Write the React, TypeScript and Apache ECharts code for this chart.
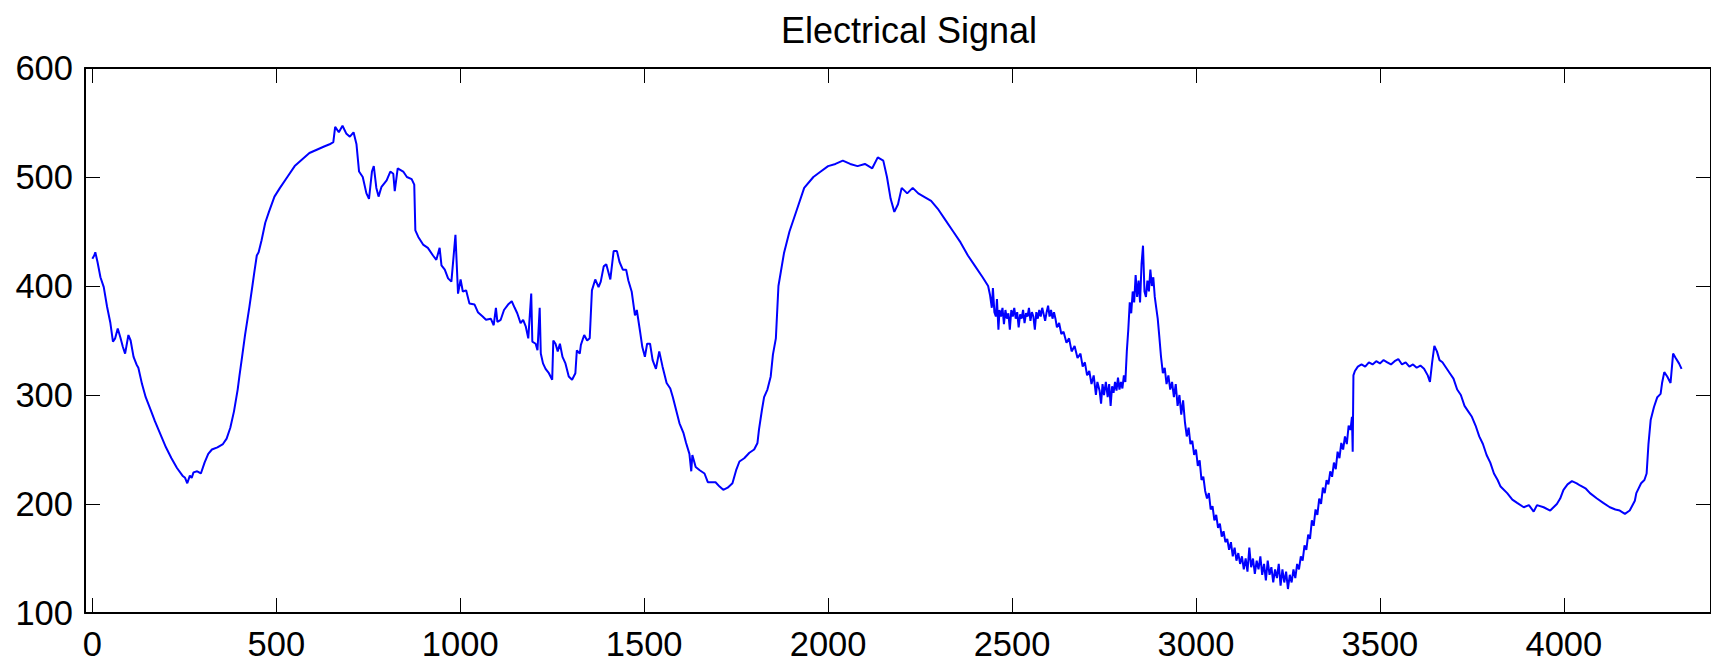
import React, { useEffect, useRef } from "react";
import * as echarts from "echarts";

const chartTitle = "Electrical Signal";
const xTicks = [0, 500, 1000, 1500, 2000, 2500, 3000, 3500, 4000];
const yTicks = [100, 200, 300, 400, 500, 600];

// sample positions (x) and signal readings (y)
const sampleX = [
  0, 5, 8, 14, 22, 31, 40, 49, 56, 62, 69, 76, 83, 89, 98, 104, 112, 120, 125, 135,
  145, 160, 170, 180, 190, 200, 215, 230, 245, 252, 258, 265, 270, 275, 285, 295, 305, 315, 325, 340,
  355, 365, 375, 385, 395, 400, 407, 415, 427, 435, 440, 447, 452, 460, 470, 480, 495, 510, 530, 550,
  570, 590, 610, 630, 645, 655, 660, 670, 680, 690, 700, 710, 718, 725, 735, 745, 752, 760, 765, 772,
  778, 786, 800, 810, 818, 822, 830, 845, 855, 868, 875, 878, 886, 899, 912, 926, 935, 944, 949, 958,
  967, 976, 987, 994, 1001, 1007, 1016, 1025, 1039, 1048, 1061, 1070, 1083, 1091, 1097, 1101, 1110, 1119, 1130, 1140,
  1148, 1155, 1164, 1171, 1178, 1185, 1193, 1196, 1205, 1210, 1216, 1219, 1225, 1232, 1241, 1250, 1253, 1259, 1265, 1271,
  1278, 1286, 1295, 1304, 1313, 1317, 1325, 1328, 1337, 1345, 1352, 1358, 1367, 1376, 1382, 1390, 1397, 1408, 1417, 1426,
  1433, 1442, 1451, 1457, 1466, 1475, 1480, 1489, 1495, 1502, 1508, 1516, 1523, 1532, 1541, 1550, 1561, 1571, 1578, 1587,
  1596, 1607, 1614, 1623, 1628, 1631, 1640, 1651, 1664, 1673, 1682, 1694, 1705, 1715, 1727, 1740, 1750, 1759, 1772, 1786,
  1799, 1808, 1812, 1820, 1826, 1835, 1844, 1850, 1858, 1865, 1880, 1895, 1915, 1935, 1960, 1980, 2000, 2020, 2040, 2060,
  2080, 2100, 2120, 2135, 2150, 2160, 2170, 2180, 2190, 2200, 2215, 2230, 2245, 2260, 2280, 2300, 2320, 2340, 2360, 2380,
  2400, 2420, 2435, 2440, 2445, 2448, 2452, 2456, 2459, 2463, 2466, 2470, 2474, 2478, 2482, 2486, 2490, 2494, 2498, 2502,
  2506, 2510, 2514, 2518, 2522, 2526, 2530, 2534, 2538, 2542, 2546, 2550, 2554, 2558, 2562, 2566, 2570, 2574, 2578, 2582,
  2586, 2590, 2594, 2598, 2602, 2606, 2610, 2614, 2618, 2622, 2628, 2634, 2640, 2648, 2655, 2662, 2670, 2678, 2686, 2692,
  2698, 2704, 2710, 2716, 2722, 2728, 2732, 2738, 2742, 2746, 2750, 2755, 2760, 2764, 2768, 2772, 2776, 2780, 2784, 2788,
  2792, 2796, 2800, 2804, 2808, 2812, 2816, 2820, 2824, 2828, 2832, 2836, 2840, 2844, 2848, 2852, 2856, 2860, 2864, 2868,
  2872, 2876, 2880, 2884, 2888, 2892, 2896, 2900, 2905, 2910, 2915, 2920, 2925, 2930, 2935, 2940, 2945, 2950, 2955, 2960,
  2965, 2970, 2975, 2980, 2985, 2990, 2995, 3000, 3005, 3010, 3015, 3020, 3025, 3030, 3035, 3040, 3045, 3050, 3055, 3060,
  3065, 3070, 3075, 3080, 3085, 3090, 3095, 3100, 3105, 3110, 3115, 3120, 3125, 3130, 3135, 3140, 3145, 3150, 3155, 3160,
  3165, 3170, 3175, 3180, 3185, 3190, 3195, 3200, 3205, 3210, 3215, 3220, 3225, 3230, 3235, 3240, 3245, 3250, 3255, 3260,
  3265, 3270, 3275, 3280, 3285, 3290, 3295, 3300, 3305, 3310, 3315, 3320, 3325, 3330, 3335, 3340, 3345, 3350, 3355, 3360,
  3365, 3370, 3375, 3380, 3385, 3390, 3395, 3400, 3405, 3410, 3415, 3420, 3424, 3426, 3428, 3432, 3440, 3450, 3460, 3470,
  3480, 3490, 3500, 3510, 3520, 3530, 3540, 3550, 3560, 3570, 3580, 3590, 3600, 3610, 3620, 3630, 3636, 3642, 3648, 3655,
  3662, 3670, 3680, 3690, 3700, 3710, 3720, 3730, 3740, 3750, 3760, 3770, 3780, 3790, 3800, 3810, 3820, 3828, 3846, 3860,
  3873, 3891, 3905, 3918, 3927, 3945, 3963, 3981, 3990, 3999, 4010, 4022, 4035, 4044, 4060, 4071, 4090, 4107, 4125, 4140,
  4152, 4166, 4179, 4193, 4197, 4210, 4219, 4225, 4230, 4236, 4245, 4254, 4263, 4267, 4273, 4281, 4290, 4297, 4304, 4313,
  4320,
];

const signal = [
  425, 428, 431, 422, 408, 399, 381, 366, 349, 352, 361, 353, 344, 338, 355, 350, 335, 328, 325, 310,
  298, 285, 276, 268, 260, 252, 242, 233, 226, 224, 219, 226, 224, 229, 230, 228, 238, 246, 250, 252,
  255, 260, 270, 285, 305, 318, 335, 355, 381, 400, 412, 428, 431, 442, 458, 468, 482, 490, 500, 510,
  516, 522, 525, 528, 530, 532, 546, 541, 547, 540, 537, 541, 530, 505, 500, 485, 480, 505, 510, 490,
  482, 491, 497, 505, 503, 487, 508, 505, 500, 498, 493, 451, 445, 438, 435, 428, 424, 435, 419, 415,
  407, 404, 447, 393, 406, 395, 396, 384, 383, 376, 372, 369, 370, 364, 380, 367, 369, 378, 383, 386,
  380, 375, 366, 369, 363, 352, 393, 349, 347, 341, 380, 338, 329, 324, 320, 314, 350, 347, 340, 347,
  335, 329, 317, 314, 320, 341, 338, 346, 355, 350, 352, 396, 406, 399, 404, 418, 420, 406, 432, 432,
  422, 415, 415, 405, 395, 373, 378, 358, 344, 335, 347, 347, 332, 324, 340, 326, 311, 306, 298, 286,
  274, 265, 256, 246, 230, 245, 234, 231, 228, 220, 220, 220, 216, 213, 215, 219, 231, 239, 242, 247,
  250, 256, 268, 286, 298, 305, 317, 337, 352, 400, 430, 450, 470, 490, 500, 505, 510, 512, 515, 512,
  510, 512, 508, 518, 515, 500, 480, 468, 475, 490, 485, 490, 485, 482, 478, 470, 460, 450, 440, 428,
  418, 408, 400, 392, 380, 398, 376, 372, 388, 360, 378, 372, 380, 365, 378, 370, 375, 360, 378, 372,
  380, 370, 376, 362, 374, 370, 378, 366, 375, 372, 380, 368, 376, 372, 360, 376, 370, 378, 372, 380,
  374, 368, 376, 382, 372, 378, 370, 376, 370, 362, 366, 356, 358, 348, 352, 340, 345, 334, 338, 326,
  330, 318, 322, 310, 318, 300, 312, 304, 292, 310, 300, 312, 298, 310, 290, 308, 302, 312, 304, 316,
  305, 312, 306, 318, 312, 340, 360, 385, 375, 395, 385, 410, 390, 405, 385, 420, 437, 395, 390, 405,
  395, 415, 400, 408, 390, 380, 370, 355, 335, 320, 325, 310, 318, 305, 312, 298, 310, 290, 300, 282,
  295, 275, 262, 270, 255, 258, 245, 250, 235, 240, 222, 225, 212, 205, 210, 195, 198, 185, 190, 178,
  182, 170, 175, 165, 168, 158, 165, 152, 160, 148, 155, 145, 152, 140, 150, 138, 160, 142, 150, 136,
  148, 140, 152, 135, 145, 130, 148, 135, 142, 128, 140, 132, 145, 125, 140, 128, 138, 122, 135, 128,
  140, 132, 145, 140, 152, 148, 162, 158, 172, 168, 185, 180, 195, 190, 205, 200, 215, 210, 222, 218,
  230, 225, 238, 232, 248, 242, 256, 250, 262, 255, 272, 268, 280, 248, 318, 322, 326, 328, 326, 330,
  328, 331, 329, 332, 330, 328, 331, 333, 328, 330, 326, 328, 325, 327, 324, 318, 312, 330, 345, 340,
  332, 330, 325, 320, 315, 305, 300, 290, 285, 280, 272, 262, 255, 245, 238, 228, 222, 216, 210, 204,
  201, 197, 199, 193, 199, 197, 194, 200, 205, 213, 218, 221, 219, 217, 214, 210, 205, 201, 197, 195,
  194, 191, 194, 203, 210, 219, 222, 228, 255, 277, 289, 298, 301, 311, 321, 317, 311, 338, 334, 329,
  324,
];

const FONT = '"Liberation Sans", Arial, Helvetica, sans-serif';

export default function App() {
  const ref = useRef<HTMLDivElement>(null);

  useEffect(() => {
    if (!ref.current) return;
    const chart = echarts.init(ref.current, undefined, { renderer: "svg" });
    const points = sampleX.map((x, i) => [x, signal[i]]);

    const axisLine = { show: true, onZero: false, lineStyle: { color: "#000", width: 2 } };
    const tickStyle = { color: "#000", width: 1 };
    const plain = (v: number) => String(v);

    chart.setOption({
      animation: false,
      backgroundColor: "#fff",
      title: {
        text: chartTitle,
        left: 904,
        top: 7,
        textAlign: "center",
        textStyle: { fontSize: 36, fontWeight: "normal", color: "#000", fontFamily: FONT },
      },
      grid: { left: 85, top: 68, width: 1637, height: 545, containLabel: false },
      xAxis: [
        {
          type: "value",
          position: "bottom",
          min: -20,
          max: 4400,
          axisLine,
          axisTick: { show: true, inside: true, length: 15, lineStyle: tickStyle, customValues: xTicks },
          axisLabel: {
            customValues: xTicks,
            formatter: plain,
            fontSize: 34.5,
            color: "#000",
            fontFamily: FONT,
            margin: 13,
          },
          splitLine: { show: false },
        },
        {
          type: "value",
          position: "top",
          min: -20,
          max: 4400,
          axisLine,
          axisTick: { show: true, inside: true, length: 15, lineStyle: tickStyle, customValues: xTicks },
          axisLabel: { show: false, customValues: xTicks },
          splitLine: { show: false },
        },
      ],
      yAxis: [
        {
          type: "value",
          position: "left",
          min: 100,
          max: 600,
          interval: 100,
          axisLine,
          axisTick: { show: true, inside: true, length: 15, lineStyle: tickStyle, customValues: yTicks },
          axisLabel: {
            customValues: yTicks,
            formatter: plain,
            fontSize: 34.5,
            color: "#000",
            fontFamily: FONT,
            margin: 12,
          },
          splitLine: { show: false },
        },
        {
          type: "value",
          position: "right",
          min: 100,
          max: 600,
          interval: 100,
          axisLine,
          axisTick: { show: true, inside: true, length: 15, lineStyle: tickStyle, customValues: yTicks },
          axisLabel: { show: false },
          splitLine: { show: false },
        },
      ],
      series: [
        {
          type: "line",
          xAxisIndex: 0,
          yAxisIndex: 0,
          data: points,
          showSymbol: false,
          symbol: "none",
          lineStyle: { color: "#0000ff", width: 2 },
          emphasis: { disabled: true },
        },
      ],
    });

    return () => chart.dispose();
  }, []);

  return (
    <div
      ref={ref}
      style={{ position: "fixed", left: 0, top: 0, width: 1711, height: 661, background: "#fff" }}
    />
  );
}
